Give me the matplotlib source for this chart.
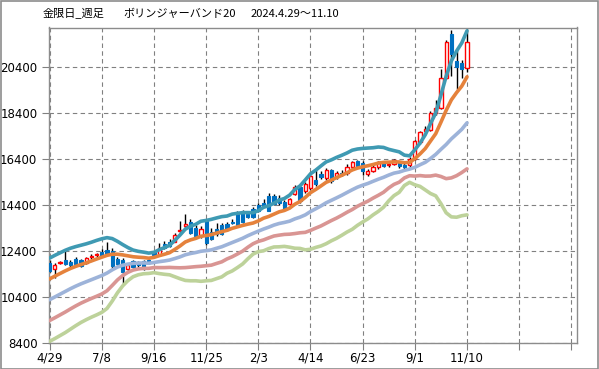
import matplotlib
matplotlib.use("Agg")
import matplotlib.pyplot as plt
from matplotlib.patches import Rectangle

# ---------------- data ----------------
date_labels = ["4/29", "7/8", "9/16", "11/25", "2/3", "4/14", "6/23", "9/1", "11/10", "", ""]
y_ticks = [8400, 10400, 12400, 14400, 16400, 18400, 20400]

opens = [11850, 11600, 11850, 12000, 11920, 12010, 11990, 11850, 12120, 12200,
         12330, 12430, 12400, 12040, 11995, 11600, 11950, 11900, 11950, 11980,
         12330, 12220, 12680, 12780, 12780, 13230, 13480, 13640, 13400, 13020,
         13680, 13200, 13340, 13520, 13560, 13650, 14000, 14030, 14000, 14210,
         14360, 14450, 14790, 14790, 14700, 14500, 14430, 14850, 15180, 15010,
         15130, 15450, 15740, 15550, 15910, 15590, 15790, 15760, 16020, 16280,
         16200, 15730, 15880, 16020, 16240, 16130, 16170, 16240, 16100, 16100,
         16390, 17110, 17620, 17650, 18370, 18600, 19910, 21830, 20660, 20560,
         20340]
highs = [11970, 11850, 11950, 12360, 12000, 12100, 12050, 12120, 12250, 12300,
         12450, 12760, 12500, 12100, 12080, 11850, 12000, 11950, 12000, 12050,
         12400, 12720, 12800, 12900, 13150, 13700, 14000, 13750, 13500, 13450,
         13750, 13400, 13600, 13600, 13650, 13750, 14100, 14150, 14100, 14300,
         14450, 14650, 14900, 14850, 14800, 14600, 14700, 15250, 15300, 15400,
         15800, 15900, 15850, 16000, 15950, 15850, 15900, 16150, 16300, 16350,
         16300, 15950, 16100, 16300, 16300, 16280, 16400, 16300, 16200, 16450,
         17200, 17600, 17800, 18450, 18950, 20300, 21550, 22000, 21100, 20700,
         22050]
lows = [11460, 11220, 11800, 11780, 11700, 11750, 11700, 11800, 12050, 12130,
        12100, 12200, 11650, 11750, 10920, 11500, 11650, 11700, 11550, 11800,
        12150, 12150, 12450, 12550, 12750, 13150, 13400, 13100, 12950, 12950,
        12650, 12850, 13050, 13080, 13250, 13550, 13450, 13580, 13800, 13800,
        14080, 14300, 14100, 14380, 14400, 14150, 14380, 14800, 14450, 14900,
        15050, 15200, 15500, 15450, 15350, 15500, 15650, 15700, 15950, 16000,
        15700, 15650, 15800, 15950, 16030, 16050, 16100, 16000, 15950, 16050,
        16350, 17050, 17550, 17600, 18300, 18550, 19850, 20010, 19430, 19900,
        20150]
closes = [11530, 11780, 11900, 11820, 11780, 11820, 11740, 12060, 12160, 12240,
          12180, 12260, 11720, 11820, 11460, 11750, 11700, 11750, 11600, 11850,
          12200, 12510, 12520, 12600, 13080, 13290, 13540, 13170, 13020, 13340,
          12730, 12900, 13130, 13130, 13300, 13600, 13520, 13630, 13850, 13850,
          14140, 14350, 14140, 14430, 14450, 14210, 14650, 15150, 14545, 15300,
          15620, 15300, 15590, 15900, 15440, 15760, 15750, 16050, 16240, 16090,
          15850, 15880, 16020, 16240, 16090, 16170, 16340, 16070, 16050, 16400,
          17150, 17540, 17690, 18370, 18600, 19900, 21460, 20960, 20370, 20300,
          21460]

# Bollinger(20): middle line and one standard deviation (values per week)
ma20 = [10260, 10380, 10500, 10620, 10740, 10850, 10950, 11040, 11130, 11220,
        11310, 11420, 11560, 11680, 11760, 11810, 11840, 11855, 11860, 11846,
        11880, 11916, 11947, 11986, 12051, 12124, 12214, 12270, 12313, 12368,
        12396, 12428, 12498, 12564, 12656, 12748, 12839, 12933, 13046, 13146,
        13242, 13334, 13416, 13507, 13576, 13622, 13677, 13776, 13852, 13950,
        14095, 14215, 14338, 14476, 14583, 14691, 14803, 14924, 15043, 15155,
        15241, 15317, 15411, 15502, 15584, 15682, 15766, 15812, 15888, 15942,
        16019, 16131, 16236, 16400, 16580, 16800, 17010, 17256, 17462, 17672,
        17953]
sd20 = [905, 905, 900, 895, 880, 860, 840, 825, 815, 810,
        800, 770, 680, 560, 450, 360, 290, 255, 235, 221,
        221, 259, 290, 321, 396, 475, 557, 593, 614, 653,
        656, 664, 660, 655, 622, 618, 590, 558, 502, 450,
        445, 473, 466, 476, 507, 521, 566, 638, 680, 760,
        820, 840, 870, 890, 880, 880, 870, 860, 860, 830,
        800, 770, 730, 700, 650, 560, 490, 440, 330, 288,
        381, 471, 600, 760, 900, 1180, 1484, 1696, 1807, 1879,
        2001]

# ---------------- figure ----------------
W, H = 599, 369
fig = plt.figure(figsize=(W / 100, H / 100), dpi=100)
fig.patch.set_facecolor("white")
fig.patches.append(Rectangle((0.5 / W, 0.5 / H), (W - 1.5) / W, (H - 1.5) / H,
                             transform=fig.transFigure, fill=False,
                             edgecolor="#8c8c8c", linewidth=1.2))

ax_l, ax_r, ax_t, ax_b = 48.5, 577, 27.5, 342.5
ax = fig.add_axes([ax_l / W, (H - ax_b) / H, (ax_r - ax_l) / W, (ax_b - ax_t) / H])

weeks = list(range(len(closes)))

# candles
up_col, dn_col = "#ff0000", "#0070c0"
ax.vlines(weeks, lows, highs, color="black", linewidth=1.0, zorder=2)
for i in weeks:
    o, c = opens[i], closes[i]
    bottom = min(o, c)
    height = max(abs(c - o), 30)
    if c >= o:
        ax.bar(i, height, bottom=bottom, width=0.62, facecolor="white",
               edgecolor=up_col, linewidth=1.0, zorder=3)
    else:
        ax.bar(i, height, bottom=bottom, width=0.62, facecolor=dn_col,
               edgecolor=dn_col, linewidth=0.8, zorder=3)

# bands
bands = [(2, "#3f9ab3"), (1, "#e5823c"), (0, "#9db3d9"), (-1, "#d99593"), (-2, "#bdd29a")]
for k, col in bands:
    vals = [m + k * s for m, s in zip(ma20, sd20)]
    ax.plot(weeks, vals, color=col, linewidth=2.6, solid_capstyle="round",
            solid_joinstyle="round", zorder=4)

# axes styling
ax.set_xlim(-0.21, 101.08)
ax.set_ylim(8400, 22100)
ax.set_xticks(range(0, 101, 10))
ax.set_xticklabels(date_labels)
ax.set_yticks(y_ticks)
ax.set_yticklabels([str(v) for v in y_ticks])
ax.grid(True, color="#808080", linestyle=(0, (4, 3)), linewidth=0.8)
ax.set_axisbelow(True)
for sp in ax.spines.values():
    sp.set_color("#8c8c8c")
    sp.set_linewidth(1.0)
ax.tick_params(axis="both", colors="#808080", labelcolor="black", labelsize=8.5,
               length=5, width=0.8, direction="out")
ax.tick_params(axis="x", pad=1.5)
ax.tick_params(axis="y", pad=3)

# title
jp = ["Noto Sans CJK JP", "DejaVu Sans"]
fig.text(43 / W, 1 - 14 / H, "金限日_週足", family=jp, fontsize=8, va="center", ha="left")
fig.text(123 / W, 1 - 14 / H, "ボリンジャーバンド20", family=jp, fontsize=8, va="center", ha="left")
fig.text(251 / W, 1 - 14 / H, "2024.4.29～11.10", family=jp, fontsize=8, va="center", ha="left")

fig.savefig("out.png", dpi=100, facecolor="white")
